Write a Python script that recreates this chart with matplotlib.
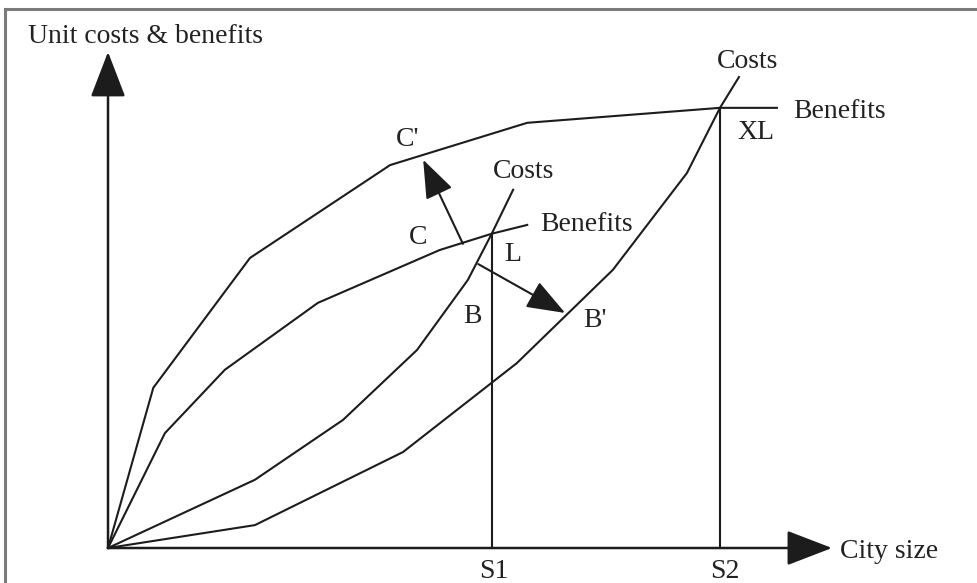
import numpy as np
import matplotlib.pyplot as plt
from matplotlib.lines import Line2D

plt.rcParams['font.family'] = ['Liberation Serif', 'DejaVu Serif']

# curves (city size 0..~110, unit costs/benefits 0..~110)
ben_hi_x = [0, 7.4, 23.2, 46.1, 68.5, 100, 109.3]
ben_hi_y = [0, 36.4, 65.9, 87.0, 96.6, 100, 100]

ben_lo_x = [0, 9.3, 19.1, 34.3, 54.2, 62.7, 68.5]
ben_lo_y = [0, 26.1, 40.5, 55.7, 67.7, 71.4, 73.4]

cost_lo_x = [0, 24.0, 38.4, 50.5, 58.8, 62.7, 66.2]
cost_lo_y = [0, 15.5, 29.1, 45.0, 60.9, 71.4, 81.4]

cost_hi_x = [0, 24.0, 48.2, 66.8, 82.5, 94.6, 100, 103.1]
cost_hi_y = [0, 5.2, 21.8, 42.0, 63.2, 85.2, 100, 107.0]

S1, L_y = 62.7, 71.4
S2, XL_y = 100, 100

# shift arrows: C -> C', B -> B'
arr_c = [(58.0, 69.1), (51.5, 88.2)]
arr_b = [(60.5, 64.5), (74.7, 53.4)]

fig = plt.figure(figsize=(9.78, 5.83), dpi=100)
ax = fig.add_axes([0, 0, 1, 1])
ax.set_xlim(-17.65, 142.16)
ax.set_ylim(-7.95, 124.5)
ax.axis('off')

col = '#1c1c1c'
lw = 1.5
for xs, ys in [(ben_hi_x, ben_hi_y), (ben_lo_x, ben_lo_y),
               (cost_lo_x, cost_lo_y), (cost_hi_x, cost_hi_y)]:
    ax.plot(xs, ys, color=col, lw=lw, solid_joinstyle='miter')

ax.plot([S1, S1], [0, L_y], color=col, lw=lw)
ax.plot([S2, S2], [0, XL_y], color=col, lw=lw)

# axes with big arrow heads
axprops = dict(arrowstyle='-|>,head_length=1.3,head_width=0.5', color=col,
               lw=1.8, shrinkA=0, shrinkB=0, mutation_scale=22)
ax.annotate('', xy=(0, 112.7), xytext=(0, 0), arrowprops=axprops)
ax.annotate('', xy=(118.3, 0), xytext=(0, 0), arrowprops=axprops)

shprops = dict(arrowstyle='-|>,head_length=1.2,head_width=0.45', color=col,
               lw=lw, shrinkA=0, shrinkB=0, mutation_scale=20)
ax.annotate('', xy=arr_c[1], xytext=arr_c[0], arrowprops=shprops)
ax.annotate('', xy=arr_b[1], xytext=arr_b[0], arrowprops=shprops)

fs = 20
tc = '#222222'
ax.text(-13.1, 116.1, 'Unit costs & benefits', fontsize=fs, color=tc, va='center', ha='left')
ax.text(119.6, -0.7, 'City size', fontsize=fs, color=tc, va='center', ha='left')
ax.text(S1 + 0.3, -2.4, 'S1', fontsize=fs, color=tc, va='top', ha='center')
ax.text(S2 + 0.8, -2.4, 'S2', fontsize=fs, color=tc, va='top', ha='center')
ax.text(99.5, 110.5, 'Costs', fontsize=fs, color=tc, va='center', ha='left')
ax.text(111.9, 99.1, 'Benefits', fontsize=fs, color=tc, va='center', ha='left')
ax.text(102.8, 94.3, 'XL', fontsize=fs, color=tc, va='center', ha='left')
ax.text(49.0, 92.7, "C'", fontsize=fs, color=tc, va='center', ha='center')
ax.text(62.9, 85.5, 'Costs', fontsize=fs, color=tc, va='center', ha='left')
ax.text(70.6, 73.4, 'Benefits', fontsize=fs, color=tc, va='center', ha='left')
ax.text(50.7, 70.5, 'C', fontsize=fs, color=tc, va='center', ha='center')
ax.text(66.2, 66.6, 'L', fontsize=fs, color=tc, va='center', ha='center')
ax.text(59.5, 52.5, 'B', fontsize=fs, color=tc, va='center', ha='center')
ax.text(79.6, 51.8, "B'", fontsize=fs, color=tc, va='center', ha='center')

# grey frame (only top and left edges visible in the crop)
fig.add_artist(Line2D([5 / 978, 1], [1 - 9 / 583, 1 - 9 / 583],
                      transform=fig.transFigure, color='#7a7a7a', lw=2.2))
fig.add_artist(Line2D([5 / 978, 5 / 978], [0, 1 - 9 / 583],
                      transform=fig.transFigure, color='#7a7a7a', lw=2.2))

fig.savefig('out.png', dpi=100)
